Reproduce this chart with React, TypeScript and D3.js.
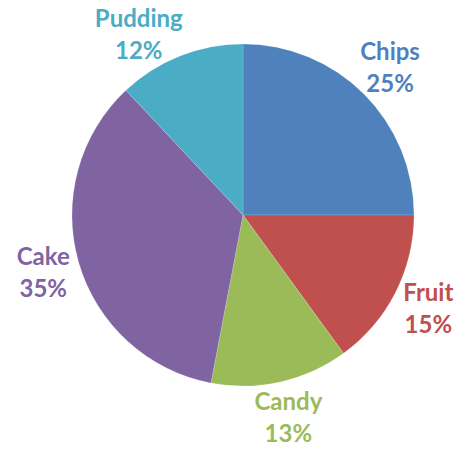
import { useMemo } from 'react';
import * as d3 from 'd3';

const categories = ['Chips', 'Fruit', 'Candy', 'Cake', 'Pudding'];
const shares = [25, 15, 13, 35, 12];
const colors = ['#4F81BD', '#C0504D', '#9BBB59', '#8064A2', '#4BACC6'];

const width = 459;
const height = 453;

export default function App() {
  const cx = 243;
  const cy = 215;
  const radius = 171;
  const labelRadius = 208;
  const blockHalf = 25; // half height of the two-line label block
  const topPad = 10;
  const bottomPad = 5;

  const slices = useMemo(() => {
    const pie = d3.pie<number>().sort(null).value(d => d);
    return pie(shares);
  }, []);

  const arc = d3.arc<d3.PieArcDatum<number>>().innerRadius(0).outerRadius(radius);

  // label centre on a circle round the pie, slid along it when it would leave the chart
  const labelPos = (s: d3.PieArcDatum<number>) => {
    const a = (s.startAngle + s.endAngle) / 2;
    let x = labelRadius * Math.sin(a);
    let y = -labelRadius * Math.cos(a);
    const minY = topPad + blockHalf - cy;
    const maxY = height - bottomPad - blockHalf - cy;
    const cl = Math.max(minY, Math.min(maxY, y));
    if (cl !== y) {
      y = cl;
      x = Math.sign(x) * Math.sqrt(Math.max(0, labelRadius * labelRadius - y * y));
    }
    return [x, y];
  };

  return (
    <div style={{ position: 'fixed', left: 0, top: 0 }}>
      <svg width={width} height={height} style={{ display: 'block', background: '#fff' }}>
        <g transform={`translate(${cx},${cy})`}>
          {slices.map((s, i) => (
            <path key={categories[i]} d={arc(s) || ''} fill={colors[i]} stroke="#ffffff" strokeOpacity={0.25} strokeWidth={0.6} />
          ))}
          {slices.map((s, i) => {
            const [lx, ly] = labelPos(s);
            return (
              <text
                key={categories[i]}
                x={lx}
                y={ly}
                textAnchor="middle"
                fill={colors[i]}
                fontFamily="Lato, 'Open Sans', sans-serif"
                fontWeight="bold"
                fontSize={24}
              >
                <tspan x={lx} dy={-8}>{categories[i]}</tspan>
                <tspan x={lx} dy={32}>{`${shares[i]}%`}</tspan>
              </text>
            );
          })}
        </g>
      </svg>
    </div>
  );
}
